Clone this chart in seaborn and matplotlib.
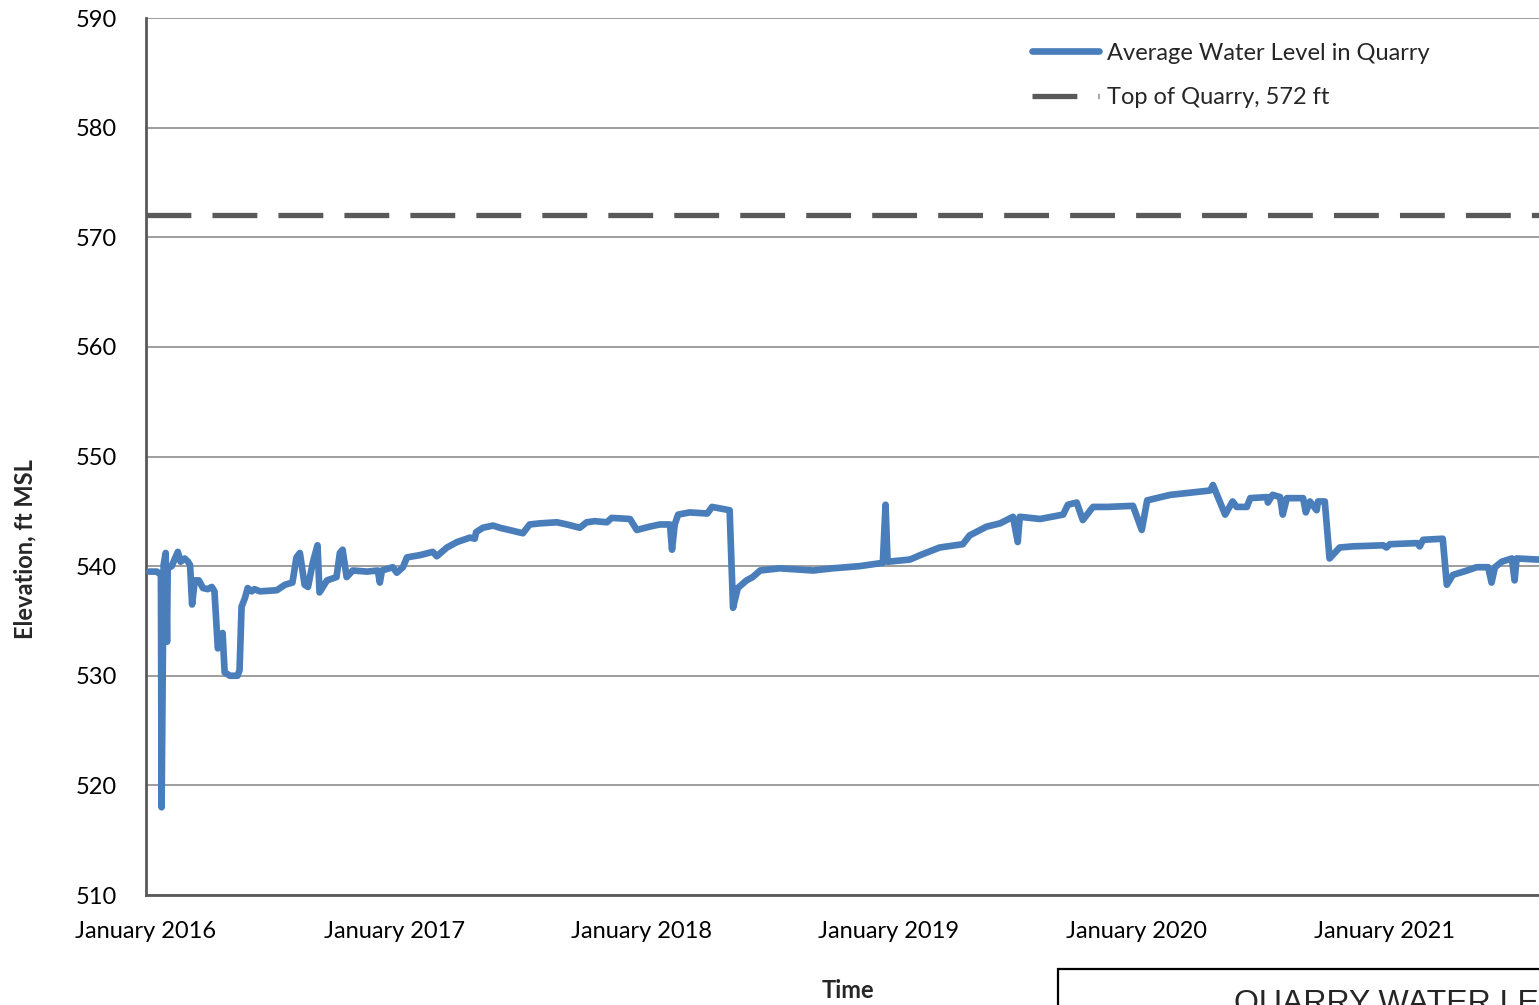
import matplotlib
matplotlib.use("Agg")
import matplotlib.pyplot as plt
import matplotlib.dates as mdates
from matplotlib.patches import Rectangle
import pandas as pd
import seaborn as sns

# readings taken off the chart (date, average water level in ft MSL)
dates = [
    "2016-01-06", "2016-01-17", "2016-01-23", "2016-01-24", "2016-01-27", "2016-01-30",
    "2016-02-01", "2016-02-02", "2016-02-08", "2016-02-12", "2016-02-17", "2016-02-21",
    "2016-02-27", "2016-03-03", "2016-03-06", "2016-03-09", "2016-03-13", "2016-03-19",
    "2016-03-25", "2016-04-01", "2016-04-07", "2016-04-11", "2016-04-16", "2016-04-19",
    "2016-04-23", "2016-04-26", "2016-05-04", "2016-05-15", "2016-05-18", "2016-05-21",
    "2016-05-26", "2016-05-30", "2016-06-05", "2016-06-09", "2016-06-17", "2016-07-12",
    "2016-07-24", "2016-08-04", "2016-08-10", "2016-08-15", "2016-08-22", "2016-08-27",
    "2016-09-03", "2016-09-10", "2016-09-13", "2016-09-24", "2016-10-08", "2016-10-13",
    "2016-10-17", "2016-10-23", "2016-11-01", "2016-11-22", "2016-12-08", "2016-12-11",
    "2016-12-14", "2016-12-30",
    "2017-01-05", "2017-01-14", "2017-01-20", "2017-02-08", "2017-02-27", "2017-03-05",
    "2017-03-20", "2017-04-04", "2017-04-23", "2017-04-30", "2017-05-02", "2017-05-12",
    "2017-05-27", "2017-06-06", "2017-07-10", "2017-07-20", "2017-08-04", "2017-08-29",
    "2017-09-13", "2017-10-02", "2017-10-12", "2017-10-24", "2017-11-11", "2017-11-18",
    "2017-12-15", "2017-12-25",
    "2018-01-13", "2018-01-28", "2018-02-12", "2018-02-15", "2018-02-19", "2018-02-24",
    "2018-03-13", "2018-04-08", "2018-04-15", "2018-05-11", "2018-05-16", "2018-05-23",
    "2018-06-05", "2018-06-14", "2018-06-25", "2018-07-24", "2018-09-11", "2018-10-10",
    "2018-11-19", "2018-12-23", "2018-12-27", "2018-12-30",
    "2019-02-01", "2019-02-16", "2019-03-17", "2019-04-20", "2019-04-30", "2019-05-25",
    "2019-06-14", "2019-07-03", "2019-07-10", "2019-07-13", "2019-08-12", "2019-09-15",
    "2019-09-22", "2019-10-05", "2019-10-14", "2019-10-29", "2019-11-19", "2019-12-27",
    "2020-01-09", "2020-01-17", "2020-02-20", "2020-04-19", "2020-04-23", "2020-05-11",
    "2020-05-22", "2020-05-28", "2020-06-12", "2020-06-17", "2020-07-12", "2020-07-13",
    "2020-07-20", "2020-07-31", "2020-08-04", "2020-08-10", "2020-09-03", "2020-09-07",
    "2020-09-13", "2020-09-23", "2020-09-25", "2020-10-05", "2020-10-12", "2020-10-27",
    "2020-11-15", "2020-12-30",
    "2021-01-04", "2021-01-09", "2021-02-18", "2021-02-22", "2021-02-27", "2021-03-28",
    "2021-04-03", "2021-04-12", "2021-05-03", "2021-05-17", "2021-06-03", "2021-06-08",
    "2021-06-13", "2021-06-23", "2021-07-08", "2021-07-12", "2021-07-15", "2021-08-15",
    "2021-09-30",
]
water_level = [
    539.5, 539.5, 539.2, 518.0, 540.1, 541.2,
    533.1, 539.8, 540.0, 540.6, 541.3, 540.4,
    540.7, 540.4, 540.1, 536.5, 538.7, 538.7,
    538.0, 537.9, 538.1, 537.7, 532.5, 533.2,
    533.9, 530.3, 530.0, 530.0, 530.5, 536.3,
    537.1, 538.0, 537.7, 537.9, 537.7, 537.8,
    538.3, 538.5, 540.8, 541.2, 538.3, 538.1,
    540.3, 541.9, 537.6, 538.7, 539.0, 541.2,
    541.5, 539.0, 539.6, 539.5, 539.6, 538.5,
    539.6, 539.9,
    539.4, 539.9, 540.8, 541.0, 541.3, 540.9,
    541.7, 542.2, 542.6, 542.5, 543.1, 543.5,
    543.7, 543.5, 543.0, 543.8, 543.9, 544.0,
    543.8, 543.5, 544.0, 544.1, 544.0, 544.4,
    544.3, 543.3,
    543.6, 543.8, 543.8, 541.5, 543.8, 544.7,
    544.9, 544.8, 545.4, 545.1, 536.2, 538.0,
    538.7, 539.0, 539.6, 539.8, 539.6, 539.8,
    540.0, 540.3, 545.6, 540.4,
    540.6, 541.0, 541.7, 542.0, 542.8, 543.6,
    543.9, 544.5, 542.2, 544.5, 544.3, 544.7,
    545.6, 545.8, 544.2, 545.4, 545.4, 545.5,
    543.3, 546.0, 546.5, 546.9, 547.4, 544.7,
    545.9, 545.4, 545.4, 546.2, 546.3, 545.8,
    546.5, 546.3, 544.7, 546.2, 546.2, 544.9,
    545.9, 545.1, 545.9, 545.9, 540.7, 541.7,
    541.8, 541.9,
    541.7, 542.0, 542.1, 541.8, 542.4, 542.5,
    538.3, 539.2, 539.6, 539.9, 539.9, 538.5,
    539.9, 540.4, 540.7, 538.7, 540.7, 540.6,
    540.6,
]
top_of_quarry = 572
y_ticks = [510, 520, 530, 540, 550, 560, 570, 580, 590]
x_ticks = ["2016-01-01", "2017-01-01", "2018-01-01", "2019-01-01", "2020-01-01", "2021-01-01"]

df = pd.DataFrame({"Date": pd.to_datetime(dates), "Level": water_level})

sns.set_theme(style="white")
plt.rcParams["font.family"] = ["Lato", "DejaVu Sans"]

fig = plt.figure(figsize=(15.39, 10.05), dpi=100)
ax = fig.add_axes([146 / 1539, 1 - 895 / 1005, 1 - 146 / 1539, (895 - 18) / 1005])

ax.axhline(top_of_quarry, color="#595959", lw=3.8, dashes=(8.5, 4.0),
           label="Top of Quarry, 572 ft", zorder=3)
sns.lineplot(data=df, x="Date", y="Level", ax=ax, color="#4a7ebb", lw=4.8,
             label="Average Water Level in Quarry", zorder=4)

ax.set_ylim(510, 590)
ax.set_yticks(y_ticks)
ax.set_xlim(pd.Timestamp("2016-01-01"), pd.Timestamp("2021-08-17"))
ax.set_xticks(pd.to_datetime(x_ticks))
ax.xaxis.set_major_formatter(mdates.DateFormatter("%B %Y"))
ax.grid(axis="y", color="#8c8c8c", lw=1.2)
ax.tick_params(axis="both", direction="out", length=9, width=1.2, color="#595959",
               labelsize=17, labelcolor="black")
ax.tick_params(axis="x", pad=10)
ax.tick_params(axis="y", pad=12)
for side in ("top", "right"):
    ax.spines[side].set_visible(False)
for side in ("left", "bottom"):
    ax.spines[side].set_color("#595959")
    ax.spines[side].set_linewidth(2)

ax.set_xlabel("")
ax.set_ylabel("")
fig.text(25 / 1539, 1 - 549 / 1005, "Elevation, ft MSL", fontsize=17, fontweight="bold",
         rotation=90, ha="center", va="center")
fig.text(848 / 1539, 1 - 990 / 1005, "Time", fontsize=17, fontweight="bold",
         ha="center", va="center")

handles, labels = ax.get_legend_handles_labels()
ax.legend(handles[::-1], labels[::-1], loc="upper right", bbox_to_anchor=(0.937, 0.996),
          frameon=False, fontsize=17, handlelength=2.84, handletextpad=0.34,
          labelspacing=1.0)

fig.patches.append(Rectangle((1058 / 1539, -0.05), 0.4, 0.05 + 1 - 969 / 1005,
                             transform=fig.transFigure, fc="white", ec="black", lw=1.6))
fig.text(1234 / 1539, 1 - 1012 / 1005, "QUARRY WATER LEVELS", fontsize=23,
         family="Liberation Sans", ha="left", va="baseline")

fig.savefig("out.png", dpi=100)
